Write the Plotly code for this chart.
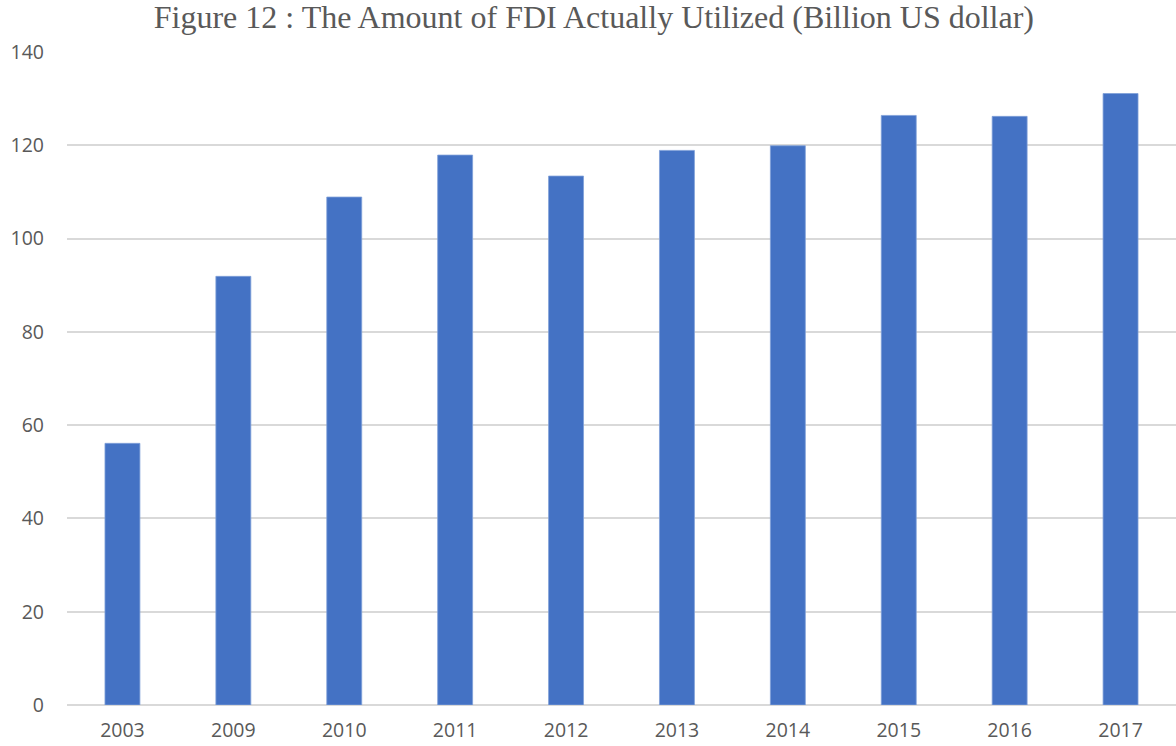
import plotly.graph_objects as go

years = ["2003", "2009", "2010", "2011", "2012", "2013", "2014", "2015", "2016", "2017"]
fdi = [56.1, 91.9, 108.9, 117.9, 113.4, 118.9, 119.9, 126.4, 126.2, 131.1]
y_ticks = [0, 20, 40, 60, 80, 100, 120, 140]

fig = go.Figure(
    go.Bar(
        x=years,
        y=fdi,
        marker=dict(color="#4472C4", line=dict(color="#7F9FD8", width=0.8)),
    )
)

fig.update_layout(
    width=1176,
    height=746,
    margin=dict(l=67, r=0, t=52, b=41),
    paper_bgcolor="white",
    plot_bgcolor="white",
    bargap=0.685,
    showlegend=False,
    title=dict(
        text="Figure 12 : The Amount of FDI Actually Utilized (Billion US dollar)",
        font=dict(family="Liberation Serif", size=32, color="#595959"),
        x=0.505,
        xanchor="center",
        y=0.978,
        yanchor="middle",
    ),
    font=dict(family="Open Sans", size=19.5, color="#595959"),
)

fig.update_xaxes(
    type="category",
    showgrid=False,
    showline=False,
    ticks="",
    automargin=False,
    ticklabelstandoff=11,
    tickfont=dict(family="Open Sans", size=19.5, color="#595959"),
)
fig.update_yaxes(
    range=[0, 140],
    tickvals=y_ticks,
    showgrid=True,
    gridcolor="#D9D9D9",
    gridwidth=1.5,
    zeroline=True,
    zerolinecolor="#D9D9D9",
    zerolinewidth=1.5,
    ticks="",
    automargin=False,
    ticklabelstandoff=22,
    tickfont=dict(family="Open Sans", size=19.5, color="#595959"),
)

fig.write_html("out.html")
